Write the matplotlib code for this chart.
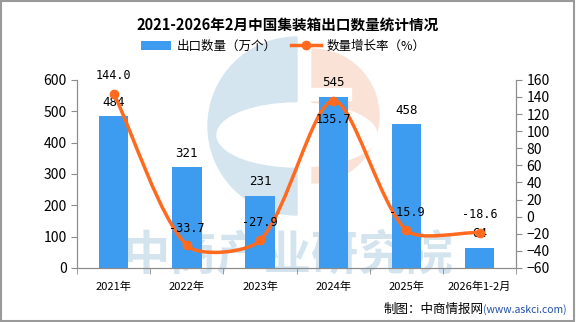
import numpy as np
import matplotlib.pyplot as plt
from matplotlib.path import Path
from matplotlib.patches import PathPatch, Rectangle, Wedge, Ellipse
from matplotlib.lines import Line2D
from matplotlib.transforms import Affine2D

plt.rcParams['font.family'] = ['Noto Sans CJK SC', 'DejaVu Sans']
plt.rcParams['font.size'] = 9

categories = ['2021年', '2022年', '2023年', '2024年', '2025年', '2026年1-2月']
volume = [484, 321, 231, 545, 458, 64]
growth = [144.0, -33.7, -27.9, 135.7, -15.9, -18.6]
growth_labels = ['144.0', '-33.7', '-27.9', '135.7', '-15.9', '-18.6']

c_bar = '#3D9CF0'
c_line = '#FF6A1F'
c_axis = '#8c8c8c'


def smooth_path(xs, ys, sx, sy, smooth=0.27):
    # echarts style bezier smoothing, distances measured in pixels
    n = len(xs)
    cps = []
    for i in range(n):
        px, py = (xs[i - 1], ys[i - 1]) if i > 0 else (xs[i], ys[i])
        nx, ny = (xs[i + 1], ys[i + 1]) if i < n - 1 else (xs[i], ys[i])
        vx, vy = (nx - px) * smooth, (ny - py) * smooth
        d0 = np.hypot((xs[i] - px) * sx, (ys[i] - py) * sy)
        d1 = np.hypot((nx - xs[i]) * sx, (ny - ys[i]) * sy)
        t = d0 + d1
        a, b = (d0 / t, d1 / t) if t > 0 else (0, 0)
        cps.append(((xs[i] - vx * a, ys[i] - vy * a), (xs[i] + vx * b, ys[i] + vy * b)))
    verts = [(xs[0], ys[0])]
    codes = [Path.MOVETO]
    for i in range(n - 1):
        verts += [cps[i][1], cps[i + 1][0], (xs[i + 1], ys[i + 1])]
        codes += [Path.CURVE4] * 3
    return Path(verts, codes)


fig = plt.figure(figsize=(5.76, 3.22), dpi=100)
px = Affine2D().scale(1 / 100, -1 / 100).translate(0, 3.22) + fig.dpi_scale_trans

# background logo (behind the axes)
logo_blue = '#d5e5f0'
logo_pink = '#fbe2d7'
fig.patches.append(Wedge((297, 126), 89, 90, 270, transform=px, color=logo_blue, zorder=-3))
fig.patches.append(Ellipse((297, 135), 160, 64, transform=px, color='white', zorder=-2))
fig.patches.append(Wedge((312, 116), 67, -90, 90, transform=px, color=logo_pink, zorder=-3))
fig.patches.append(Rectangle((311, 88), 40, 12, transform=px, color='white', zorder=-2))
fig.text(0.5, 0.208, '中商产业研究院', ha='center', va='center', fontsize=34,
         color='#d3e4ef', fontweight='bold', zorder=-1)

ax = fig.add_axes([0.134, 0.168, 0.762, 0.584])
ax2 = ax.twinx()
ax.patch.set_visible(False)
ax2.patch.set_visible(False)

x = np.arange(len(categories))
ax.bar(x, volume, width=0.4, color=c_bar, zorder=2, label='出口数量（万个）')
for xi, v in zip(x, volume):
    ax.text(xi, v + 45, str(v), ha='center', va='center', fontsize=9,
            family='DejaVu Sans Mono', zorder=5)

ax.set_xlim(-0.5, len(categories) - 0.5)
ax.set_ylim(0, 600)
ax.set_yticks(np.arange(0, 601, 100))
ax.set_xticks(x)
ax.set_xticklabels(categories, fontsize=8)
ax.set_xticks(np.arange(-0.5, len(categories), 1), minor=True)
ax.tick_params(axis='x', which='major', length=0, pad=10)
ax.tick_params(axis='x', which='minor', length=4, color=c_axis)
ax.tick_params(axis='y', length=4, color=c_axis, labelsize=10)

ax2.set_ylim(-60, 160)
ax2.set_yticks(np.arange(-60, 161, 20))
ax2.tick_params(axis='y', length=4, color=c_axis, labelsize=10)

ax2.add_patch(PathPatch(smooth_path(list(x), growth, 73.2, 188 / 220), fill=False,
                        edgecolor=c_line, lw=2.5, zorder=3))
ax2.plot(x, growth, 'o', color=c_line, ms=6, zorder=4)
offsets = [21, 20, 21, -22, 21, 21]
for xi, g, s, o in zip(x, growth, growth_labels, offsets):
    ax2.text(xi, g + o, s, ha='center', va='center', fontsize=8.5,
             family='DejaVu Sans Mono', zorder=5)

for a in (ax, ax2):
    a.spines['top'].set_visible(False)
    for s in ('left', 'right', 'bottom'):
        a.spines[s].set_color(c_axis)
ax2.set_zorder(ax.get_zorder() + 1)

fig.suptitle('2021-2026年2月中国集装箱出口数量统计情况', y=0.948,
             fontsize=10.5, fontweight='bold')

h1, l1 = ax.get_legend_handles_labels()
h2 = [Line2D([], [], color=c_line, lw=2.5, marker='o', ms=6)]
fig.legend(h1 + h2, l1 + ['数量增长率（%）'], loc='center', bbox_to_anchor=(0.492, 0.857),
           ncol=2, frameon=False, fontsize=9, handlelength=2.4, columnspacing=1.2,
           handletextpad=0.4)

fig.text(0.983, 0.038, '(www.askci.com)', ha='right', va='center', fontsize=7.5,
         color='#1f4fa8')
fig.text(0.840, 0.038, '制图：中商情报网', ha='right', va='center', fontsize=9)

fig.patches.append(Rectangle((0.002, 0.003), 0.995, 0.994, transform=fig.transFigure,
                             fill=False, edgecolor='#9a9a9a', lw=1.5))

plt.savefig('out.png', dpi=100)
plt.close()
